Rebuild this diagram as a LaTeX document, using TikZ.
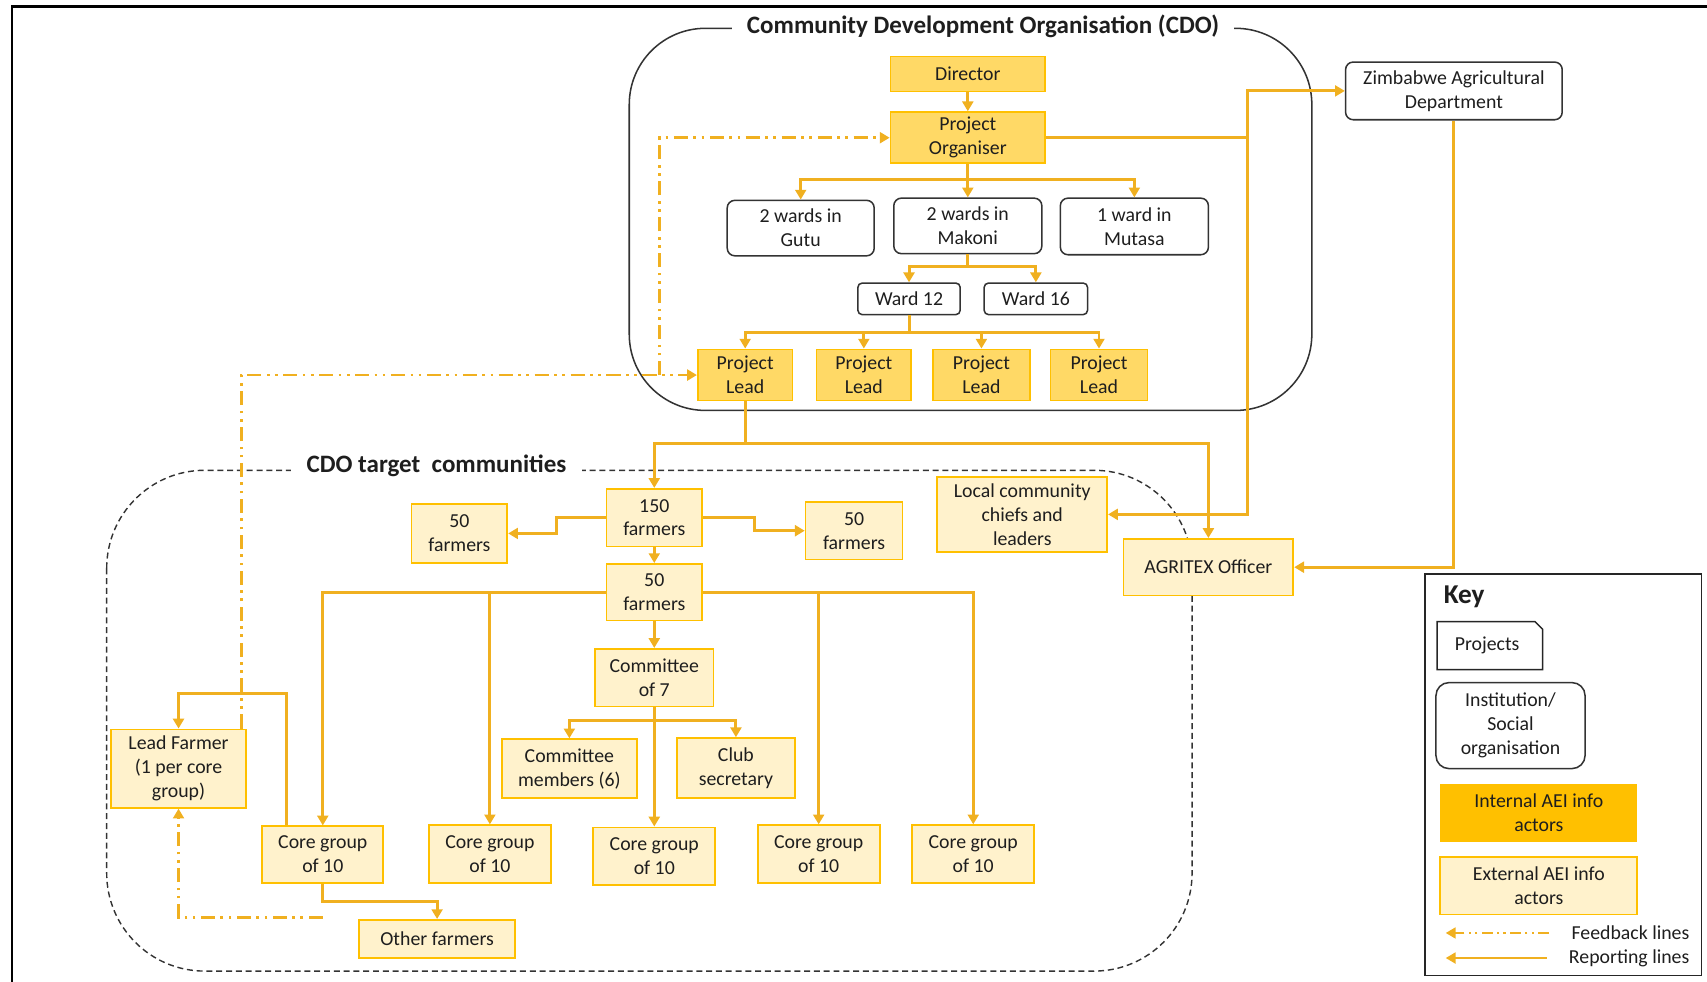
\documentclass[tikz,border=0pt]{standalone}
\usepackage{fontspec}
\setmainfont{Carlito}
\usetikzlibrary{arrows.meta,calc}
\definecolor{linec}{RGB}{240,176,32}
\definecolor{intfill}{RGB}{255,217,102}
\definecolor{intdraw}{RGB}{255,192,0}
\definecolor{extfill}{RGB}{255,242,204}
\definecolor{keyint}{RGB}{255,192,0}
\definecolor{txt}{RGB}{30,30,30}
\begin{document}
\begin{tikzpicture}[x=1pt,y=-1pt,
 every node/.style={text=txt, font=\fontsize{18.2}{22}\selectfont, align=center, inner sep=0pt},
 intbox/.style={draw=intdraw, fill=intfill, line width=1.6pt},
 extbox/.style={draw=intdraw, fill=extfill, line width=1.6pt},
 instbox/.style={draw=black!80, fill=white, line width=1.4pt, rounded corners=7pt},
 wardbox/.style={draw=black!80, fill=white, line width=1.4pt, rounded corners=4pt},
 rep/.style={draw=linec, line width=2.7pt, -{Triangle[length=9pt,width=10pt]}},
 repl/.style={draw=linec, line width=2.7pt},
 fb/.style={draw=linec, line width=2.5pt, dash pattern=on 13pt off 5pt on 2.5pt off 5pt on 2.5pt off 5pt, -{Triangle[length=9pt,width=10pt]}},
 sz/.style 2 args={minimum width=#1, minimum height=#2},
 ttl/.style={fill=white, inner xsep=14pt, inner ysep=3pt, font=\fontsize{23}{27}\selectfont\bfseries},
]
\useasboundingbox (0,0) rectangle (1568,902);
% outer frame
\draw[line width=2pt, black] (11,902) -- (11,6) -- (1568,6);

% containers
\draw[black!80, line width=1.4pt, rounded corners=70pt] (578,26) rectangle (1205,377);
\draw[black!80, line width=1.3pt, dash pattern=on 5.5pt off 3.5pt, rounded corners=90pt] (98,432) rectangle (1095,892);
\node[ttl] (cdot) at (903,24) {Community Development Organisation (CDO)};
\node[ttl] (tgtt) at (401,428) {CDO target\ \ communities};

% CDO nodes
\node[intbox, sz={142}{32}] (dir) at (889,68) {Director};
\node[intbox, sz={142}{47}] (po) at (889,126.5) {Project\\Organiser};
\node[instbox, sz={135}{51}] (gutu) at (735.5,209.5) {2 wards in\\Gutu};
\node[instbox, sz={136}{51}] (makoni) at (889,207.5) {2 wards in\\Makoni};
\node[instbox, sz={136}{52}] (mutasa) at (1042,208) {1 ward in\\Mutasa};
\node[wardbox, sz={94}{29}] (w12) at (835,274.5) {Ward 12};
\node[wardbox, sz={95}{29}] (w16) at (951.5,274.5) {Ward 16};
\node[intbox, sz={87}{47}] (pl1) at (684.5,344.5) {Project\\Lead};
\node[intbox, sz={87}{47}] (pl2) at (793.5,344.5) {Project\\Lead};
\node[intbox, sz={89}{47}] (pl3) at (901.5,344.5) {Project\\Lead};
\node[intbox, sz={89}{47}] (pl4) at (1009.5,344.5) {Project\\Lead};

% external
\node[instbox, sz={199}{53}] (zad) at (1335.5,83.5) {Zimbabwe Agricultural\\Department};
\node[extbox, sz={156}{52}] (agr) at (1110,521) {AGRITEX Officer};
\node[extbox, sz={156}{69}] (loc) at (939,472.5) {Local community\\chiefs and\\leaders};

% communities
\node[extbox, sz={88}{53}] (f150) at (601,475.5) {150\\farmers};
\node[extbox, sz={88}{54}] (f50l) at (422,490) {50\\farmers};
\node[extbox, sz={89}{53}] (f50r) at (784.5,487.5) {50\\farmers};
\node[extbox, sz={88}{52}] (f50c) at (601,544) {50\\farmers};
\node[extbox, sz={109}{53}] (com7) at (601,622.5) {Committee\\of 7};
\node[extbox, sz={124}{54}] (cm6) at (523,706) {Committee\\members (6)};
\node[extbox, sz={108}{55}] (club) at (676,705.5) {Club\\secretary};
\node[extbox, sz={111}{52}] (cg1) at (296.5,785) {Core group\\of 10};
\node[extbox, sz={112}{53}] (cg2) at (450,784.5) {Core group\\of 10};
\node[extbox, sz={112}{53}] (cg3) at (601,786.5) {Core group\\of 10};
\node[extbox, sz={112}{53}] (cg4) at (752,784.5) {Core group\\of 10};
\node[extbox, sz={112}{53}] (cg5) at (894,784.5) {Core group\\of 10};
\node[extbox, sz={124}{72}] (lf) at (164,706) {Lead Farmer\\(1 per core\\group)};
\node[extbox, sz={143}{35}] (other) at (401.5,862.5) {Other farmers};

% connectors in CDO
\draw[rep] (dir) -- (po);
\coordinate (b1) at (889,165);
\draw[repl] (po.south) -- (b1);
\draw[rep] (b1) -| (gutu.north);
\draw[rep] (b1) -- (makoni.north);
\draw[rep] (b1) -| (mutasa.north);
\coordinate (b2) at (889,245);
\draw[repl] (makoni.south) -- (b2);
\draw[rep] (b2) -| (w12.north);
\draw[rep] (b2) -| (w16.north);
\coordinate (b3) at (835,305);
\draw[repl] (w12.south) -- (b3);
\draw[rep] (b3) -| (pl1.north);
\draw[rep] (b3) -| (pl2.north);
\draw[rep] (b3) -| (pl3.north);
\draw[rep] (b3) -| (pl4.north);

\coordinate (b4) at (1146,126.5);
\draw[repl] (po.east) -- (b4);
\draw[rep] (b4) |- (zad.west);
\draw[rep] (b4) |- (loc.east);
\draw[rep] (zad.south) |- (agr.east);

\coordinate (b5) at (684.5,407);
\draw[repl] (pl1.south) -- (b5);
\draw[rep] (b5) -| (f150.north);
\draw[rep] (b5) -| (agr.north);

% communities connectors
\draw[rep] (f150.west) -- ++(-45,0) |- (f50l.east);
\draw[rep] (f150.east) -- ++(47,0) |- (f50r.west);
\draw[rep] (f150) -- (f50c);
\draw[rep] (f50c.west) -| (cg1.north);
\draw[rep] (f50c.west) -| (cg2.north);
\draw[rep] (f50c.east) -| (cg4.north);
\draw[rep] (f50c.east) -| (cg5.north);
\draw[rep] (f50c) -- (com7);
\coordinate (b6) at (601,662);
\draw[repl] (com7.south) -- (b6);
\draw[rep] (b6) -| (cm6.north);
\draw[rep] (b6) -| (club.north);
\draw[rep] (com7.south) -- (cg3.north);
\draw[rep] ($(cg1.north west)+(23,0)$) -- ++(0,-121) -| (lf.north);
\draw[rep] (cg1.south) -- ++(0,16) -| (other.north);

% feedback
\draw[fb] ($(cg1.south)+(0,31)$) -| (lf.south);
\draw[fb] ($(lf.north east)+(-5,0)$) |- (pl1.west);
\coordinate (fbj) at (606,344.5);
\draw[fb] (fbj) |- (po.west);

% key
\draw[line width=1.5pt, black!85] (1309,527) rectangle (1563,896);
\node[anchor=west, font=\fontsize{25}{29}\selectfont\bfseries] (keyt) at (1326,548) {Key};
\draw[line width=1.4pt, black!85, fill=white] (1320,571) -- (1410,571) -- (1417,578) -- (1417,615) -- (1320,615) -- cycle;
\node (kproj) at (1366,593) {Projects};
\node[instbox, rounded corners=12pt, sz={137}{79}] (kinst) at (1387.5,666.5) {Institution/\\Social\\organisation};
\node[fill=keyint, sz={181}{53}] (kint) at (1413.5,746.5) {Internal AEI info\\actors};
\node[extbox, sz={181}{53}] (kext) at (1413.5,813.5) {External AEI info\\actors};
\coordinate (kfa) at (1423,857);
\coordinate (kfb) at (1328,857);
\draw[fb, line width=1.8pt, dash pattern=on 10pt off 4pt on 2pt off 4pt on 2pt off 4pt] (kfa) -- (kfb);
\node[anchor=east] (kfbt) at (1552,857) {Feedback lines};
\coordinate (kra) at (1421,880);
\coordinate (krb) at (1328,880);
\draw[rep, line width=2pt] (kra) -- (krb);
\node[anchor=east] (krpt) at (1552,880) {Reporting lines};
\end{tikzpicture}
\end{document}
